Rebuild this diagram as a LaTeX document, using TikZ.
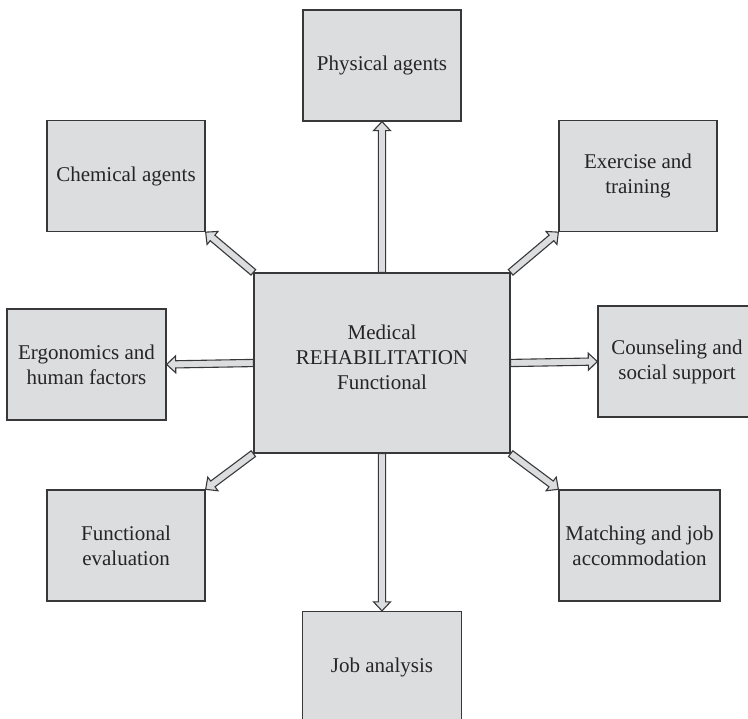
\documentclass[tikz,border=0pt]{standalone}
\usepackage{fontspec}
\setmainfont{Liberation Serif}
\usetikzlibrary{calc,backgrounds}

\definecolor{boxfill}{HTML}{DCDDDF}
\definecolor{edge}{HTML}{38383A}
\definecolor{ink}{HTML}{262426}

% hollow block arrow: shaft half width, head half width, head length
\newcommand{\arrsw}{3.6pt}
\newcommand{\arrhw}{8.5pt}
\newcommand{\arrhl}{9pt}

\tikzset{
  box/.style={draw=edge, fill=boxfill, line width=1.3pt, text=ink,
    align=center, inner sep=0pt, minimum width=158pt, minimum height=111pt,
    font=\fontsize{21}{25}\selectfont},
  hollow/.style={draw=edge, fill=boxfill, line width=1.1pt, line join=miter,
    to path={
      ($(\tikztostart)!\arrsw!90:(\tikztotarget)$)
      -- ($($(\tikztotarget)!\arrhl!(\tikztostart)$)!\arrsw!90:(\tikztotarget)$)
      -- ($($(\tikztotarget)!\arrhl!(\tikztostart)$)!\arrhw!90:(\tikztotarget)$)
      -- (\tikztotarget)
      -- ($($(\tikztotarget)!\arrhl!(\tikztostart)$)!\arrhw!-90:(\tikztotarget)$)
      -- ($($(\tikztotarget)!\arrhl!(\tikztostart)$)!\arrsw!-90:(\tikztotarget)$)
      -- ($(\tikztostart)!\arrsw!-90:(\tikztotarget)$)
      -- cycle}}
}

\begin{document}
\begin{tikzpicture}[x=1pt, y=-1pt]
  \clip (0,0) rectangle (748,719);

  % central box (text sits a little above the middle)
  \node[box, minimum width=256pt, minimum height=180pt] (mid) at (382,363)
    {Medical\\REHABILITATION\\Functional\\[-13pt]};

  % surrounding boxes
  \node[box] (phys)  at (382,65.5)  {Physical agents};
  \node[box] (chem)  at (126,176)   {Chemical agents};
  \node[box] (exer)  at (638,176)   {Exercise and\\training};
  \node[box, minimum width=159pt] (ergo) at (86.5,364.5) {Ergonomics and\\human factors};
  \node[box] (couns) at (677,361.5) {Counseling and\\social support};
  \node[box] (feval) at (126,545.5) {Functional\\evaluation};
  \node[box, minimum width=161pt] (match) at (639.5,545.5) {Matching and job\\accommodation};
  \node[box, minimum width=159pt] (job) at (382,667) {Job analysis};

  % connectors from the centre outwards
  \begin{scope}[on background layer]
    \draw[hollow] (mid.north) to (phys.south);
    \draw[hollow] (mid.south) to (job.north -| mid.south);
    \draw[hollow] (mid.west) to (ergo.east);
    \draw[hollow] (mid.east) to (couns.west);
    \draw[hollow] (mid.north west) to (chem.south east);
    \draw[hollow] (mid.north east) to (exer.south west);
    \draw[hollow] (mid.south west) to (feval.north east);
    \draw[hollow] (mid.south east) to (match.north west);
  \end{scope}
\end{tikzpicture}
\end{document}
